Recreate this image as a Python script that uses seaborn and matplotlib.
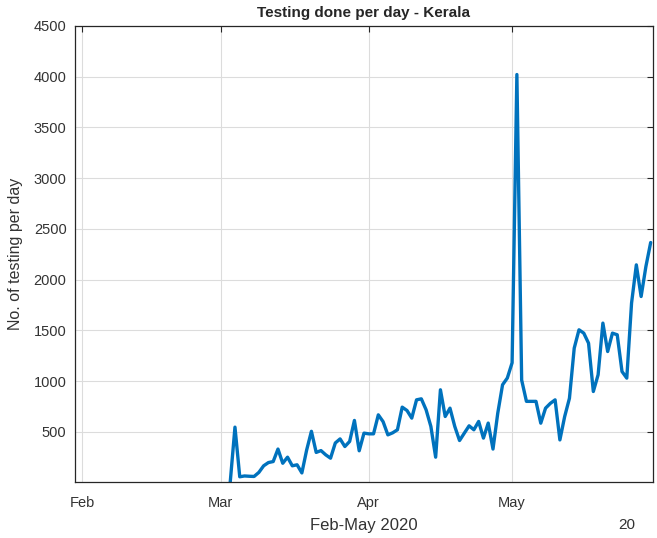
import matplotlib
matplotlib.use("Agg", force=True)
import matplotlib.pyplot as plt
import pandas as pd
import seaborn as sns

# daily tests, Kerala, starting 3 March 2020
START_DATE = "2020-03-03"
TESTS = [
    0, 546, 57, 65, 62, 60, 100, 165, 197, 207, 330, 190, 250, 165, 175, 95,
    320, 505, 297, 315, 273, 240, 390, 430, 355, 405, 612, 313, 487,
    480, 480, 667, 600, 470, 490, 520, 743, 710, 635, 815, 825, 717, 553,
    250, 914, 651, 733, 553, 414, 487, 559, 520, 602, 438, 586, 330, 684,
    963, 1030,
    1180, 4020, 1010, 800, 800, 800, 585, 733, 780, 815, 420, 650, 830,
    1324, 1505, 1472, 1373, 897, 1062, 1571, 1291, 1472, 1456, 1094, 1029,
    1768, 2145, 1833, 2128, 2365,
]
MONTH_TICKS = ["2020-02-01", "2020-03-01", "2020-04-01", "2020-05-01"]
MONTH_LABELS = ["Feb", "Mar", "Apr", "May"]
Y_TICKS = [500, 1000, 1500, 2000, 2500, 3000, 3500, 4000, 4500]


def main() -> None:
    sns.set_style("white")
    plt.rcParams["font.family"] = ["Liberation Sans", "DejaVu Sans"]

    df = pd.DataFrame({
        "date": pd.date_range(START_DATE, periods=len(TESTS), freq="D"),
        "tests": TESTS,
    })

    fig = plt.figure(figsize=(6.57, 5.38), dpi=100)
    ax = fig.add_axes([0.114, 0.104, 0.880, 0.848])
    sns.lineplot(data=df, x="date", y="tests", ax=ax, color="#0072BD", linewidth=2.4)

    ax.set_xlim(pd.Timestamp("2020-01-30 12:00"), pd.Timestamp("2020-05-30 12:00"))
    ax.set_ylim(5, 4500)
    ax.set_xticks(pd.to_datetime(MONTH_TICKS))
    ax.set_xticklabels(MONTH_LABELS)
    ax.set_yticks(Y_TICKS)

    ax.grid(True, color="#dcdcdc", linewidth=0.8)
    ax.tick_params(direction="in", length=4, width=0.8, colors="#262626",
                   labelsize=10.5, labelcolor="#333333", top=True, right=True)
    ax.tick_params(axis="x", pad=10)
    ax.tick_params(axis="y", pad=6)
    for spine in ax.spines.values():
        spine.set_color("#262626")
        spine.set_linewidth(0.9)

    ax.set_title("Testing done per day - Kerala", fontsize=11, fontweight="bold", pad=6)
    ax.set_xlabel("Feb-May 2020", fontsize=12, color="#333333", labelpad=6)
    ax.set_ylabel("No. of testing per day", fontsize=11.5, color="#333333", labelpad=8)
    ax.text(0.955, -0.078, "20", transform=ax.transAxes, fontsize=11,
            color="#333333", ha="center", va="top")

    fig.savefig("out.png", dpi=100)
    plt.close(fig)


if __name__ == "__main__":
    main()
